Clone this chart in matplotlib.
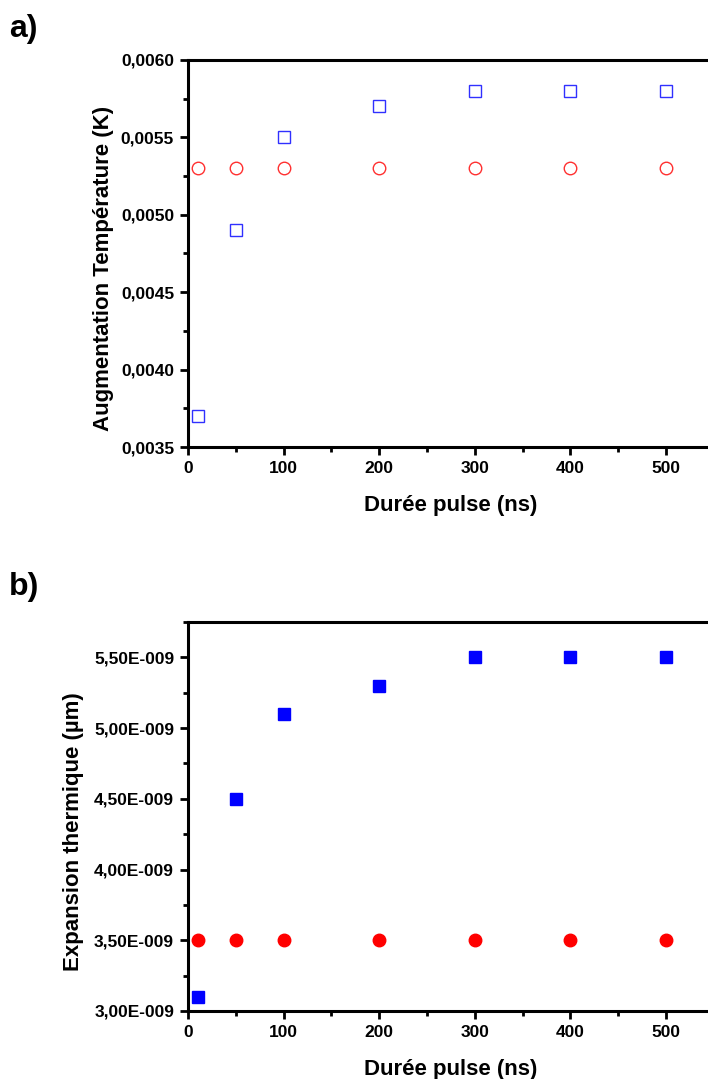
import matplotlib
matplotlib.use("Agg")
import matplotlib.pyplot as plt
from matplotlib.ticker import FuncFormatter, MultipleLocator

duree = [10, 50, 100, 200, 300, 400, 500]
temp_carres = [0.0037, 0.0049, 0.0055, 0.0057, 0.0058, 0.0058, 0.0058]
temp_cercles = [0.0053, 0.0053, 0.0053, 0.0053, 0.0053, 0.0053, 0.0053]
exp_carres = [3.1e-9, 4.5e-9, 5.1e-9, 5.3e-9, 5.5e-9, 5.5e-9, 5.5e-9]
exp_cercles = [3.5e-9, 3.5e-9, 3.5e-9, 3.5e-9, 3.5e-9, 3.5e-9, 3.5e-9]

plt.rcParams['font.family'] = ['Liberation Sans', 'DejaVu Sans']
plt.rcParams['font.weight'] = 'bold'

fig = plt.figure(figsize=(7.08, 10.79), dpi=100)
W, H = 708, 1079

def axes_px(left, top, right, bottom):
    return fig.add_axes([left / W, 1 - bottom / H, (right - left) / W, (bottom - top) / H])

xscale = 95.6
ax1 = axes_px(188, 60, 188 + 550 * xscale / 100, 447)
ax2 = axes_px(188, 622, 188 + 550 * xscale / 100, 1011)

def style(ax):
    for s in ax.spines.values():
        s.set_linewidth(2.2)
    ax.tick_params(which='major', direction='out', length=6, width=2, labelsize=12.5, pad=4)
    ax.tick_params(which='minor', direction='out', length=3.5, width=2)
    ax.tick_params(right=False, top=False)
    ax.set_xlim(0, 550)
    ax.xaxis.set_major_locator(MultipleLocator(100))
    ax.xaxis.set_minor_locator(MultipleLocator(50))
    for lab in ax.get_xticklabels() + ax.get_yticklabels():
        lab.set_fontweight('bold')
    ax.set_xlabel('Durée pulse (ns)', fontsize=16, fontweight='bold', labelpad=14)

# Panel a
ax1.plot(duree, temp_carres, linestyle='none', marker='s', markersize=8,
         markerfacecolor='none', markeredgecolor='#3030ff', markeredgewidth=1.0)
ax1.plot(duree, temp_cercles, linestyle='none', marker='o', markersize=9,
         markerfacecolor='none', markeredgecolor='#ff3030', markeredgewidth=1.0)
ax1.set_ylim(0.0035, 0.0060)
ax1.yaxis.set_major_locator(MultipleLocator(0.0005))
ax1.yaxis.set_minor_locator(MultipleLocator(0.00025))
ax1.yaxis.set_major_formatter(FuncFormatter(lambda v, p: f"{v:.4f}".replace('.', ',')))
style(ax1)
ax1.set_ylabel('Augmentation Température (K)', fontsize=16, fontweight='bold')
ax1.yaxis.set_label_coords(-0.140, 0.462)

# Panel b
ax2.plot(duree, exp_carres, linestyle='none', marker='s', markersize=8,
         markerfacecolor='#0000ff', markeredgecolor='#0000ff', markeredgewidth=1.0)
ax2.plot(duree, exp_cercles, linestyle='none', marker='o', markersize=9,
         markerfacecolor='#ff0000', markeredgecolor='#ff0000', markeredgewidth=1.0)
ax2.set_ylim(3.0e-9, 5.75e-9)
ax2.yaxis.set_major_locator(MultipleLocator(0.5e-9))
ax2.yaxis.set_minor_locator(MultipleLocator(0.25e-9))

def fmt_e(v, p):
    m = v / 1e-9
    return f"{m:.2f}".replace('.', ',') + "E-009"

ax2.yaxis.set_major_formatter(FuncFormatter(fmt_e))
style(ax2)
ax2.set_ylabel('Expansion thermique (µm)', fontsize=16, fontweight='bold')
ax2.yaxis.set_label_coords(-0.197, 0.462)

fig.text(9 / W, 1 - 29 / H, 'a)', fontsize=23, fontweight='bold', va='center', ha='left')
fig.text(9 / W, 1 - 587 / H, 'b)', fontsize=23, fontweight='bold', va='center', ha='left')

fig.savefig('out.png', dpi=100)
